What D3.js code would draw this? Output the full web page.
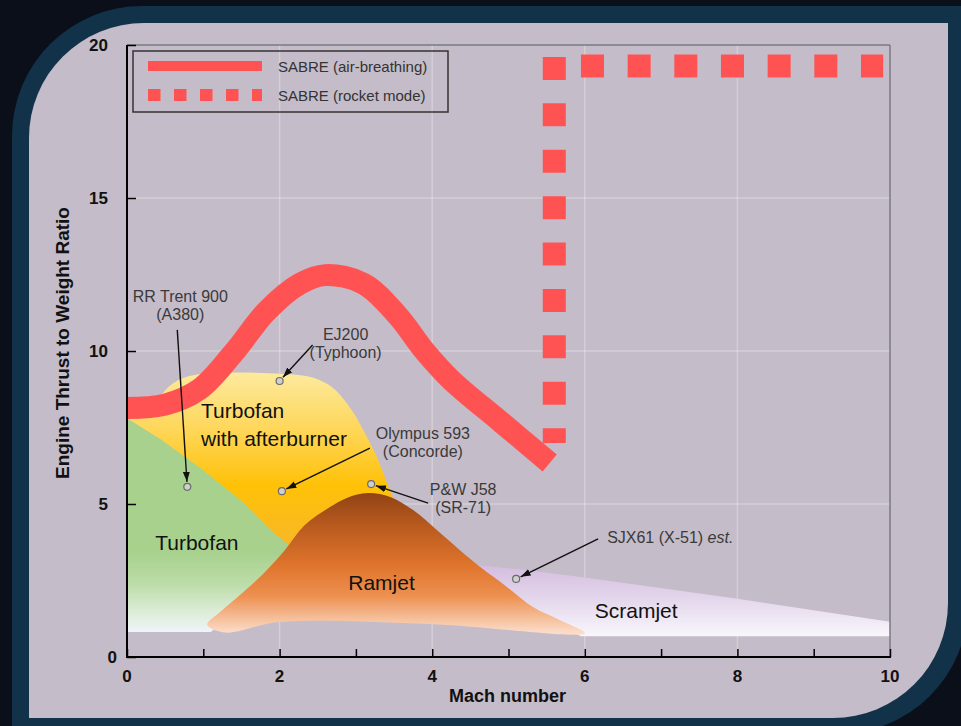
<!DOCTYPE html>
<html>
<head>
<meta charset="utf-8">
<script src="https://cdn.jsdelivr.net/npm/d3@7"></script>
<style>
  body { margin: 0; background: #0b0f19; }
  svg { display: block; }
  text { font-family: "Liberation Sans", Arial, sans-serif; }
</style>
</head>
<body>
<svg id="chart" width="961" height="726"></svg>
<script>
// ---- data ----
const xTicks = [0, 1, 2, 3, 4, 5, 6, 7, 8, 9, 10];
const xTickLabels = [0, 2, 4, 6, 8, 10];
const yTicks = [0, 5, 10, 15, 20];
const xGrid = [2, 4, 6, 8];
const yGrid = [5, 10, 15];

// SABRE air-breathing curve [mach, thrust/weight]
const sabreAir = [[0, 8.14], [0.5, 8.25], [0.95, 8.75], [1.4, 9.95], [1.83, 11.3], [2.27, 12.2],
  [2.6, 12.48], [3.1, 12.2], [3.55, 11.15], [3.9, 10.0], [4.25, 9.05], [4.9, 7.68], [5.54, 6.34]];
// SABRE rocket mode (vertical rise, then flat)
const sabreRocketRise = [[5.6, 19.61], [5.6, 6.99]];
const sabreRocketFlat = [[5.95, 19.31], [9.91, 19.31]];

// engine envelopes
const turbofan = [[0, 7.8], [0.45, 7.1], [1.0, 6.1], [1.5, 5.1], [1.9, 4.1], [2.2, 3.5], [2.4, 3.0],
  [1.6, 2.0], [1.1, 0.82], [0, 0.82]];
const afterburner = [[0, 8.0], [0.3, 8.2], [0.58, 8.9], [0.85, 9.2], [2.3, 9.2], [2.55, 9.02],
  [2.72, 8.75], [2.95, 8.05], [3.1, 7.4], [3.28, 6.5], [3.45, 5.4], [3.6, 4.5], [3.3, 2.5], [1.5, 2.5], [0, 2.5]];
const ramjet = [[1.05, 1.05], [1.28, 0.8], [2.0, 1.14], [3.97, 1.08], [6.0, 0.78], [5.67, 1.21],
  [5.32, 1.63], [4.98, 2.29], [4.63, 2.94], [4.36, 3.5], [4.06, 4.15], [3.75, 4.8], [3.45, 5.23],
  [3.16, 5.36], [2.88, 5.2], [2.66, 4.9], [2.33, 4.31], [2.07, 3.5], [1.77, 2.68], [1.48, 2.03], [1.22, 1.47]];
const scramjet = [[4.6, 3.0], [5.2, 2.85], [6, 2.6], [8, 1.9], [10, 1.15], [10, 0.68], [5.95, 0.68],
  [5.4, 1.4], [4.6, 2.6]];

const regionLabels = [
  { lines: ["Turbofan"], mach: 0.37, ratio: 3.5 },
  { lines: ["Turbofan", "with afterburner"], mach: 0.97, ratio: 7.81 },
  { lines: ["Ramjet"], mach: 2.9, ratio: 2.19 },
  { lines: ["Scramjet"], mach: 6.13, ratio: 1.27 }
];

const engines = [
  { lines: ["RR Trent 900", "(A380)"], mach: 0.79, ratio: 5.56 },
  { lines: ["EJ200", "(Typhoon)"], mach: 2.0, ratio: 9.02 },
  { lines: ["Olympus 593", "(Concorde)"], mach: 2.03, ratio: 5.42 },
  { lines: ["P&W J58", "(SR-71)"], mach: 3.2, ratio: 5.65 },
  { lines: ["SJX61 (X-51) est."], mach: 5.1, ratio: 2.55 }
];

const legendItems = ["SABRE (air-breathing)", "SABRE (rocket mode)"];

// ---- layout (pixel offsets of labels / arrow tails from each point) ----
const engineLayout = [
  { dx: -7, dy: -185, ax: -10, ay: -157, anchor: "middle" },
  { dx: 66, dy: -41, ax: 33, ay: -36, anchor: "middle" },
  { dx: 141, dy: -52, ax: 88, ay: -43, anchor: "middle" },
  { dx: 92, dy: 11, ax: 57, ay: 19, anchor: "middle" },
  { dx: 91, dy: -36, ax: 82, ay: -40, anchor: "start" }
];

const W = 961, H = 726;
const svg = d3.select("#chart");
const x = d3.scaleLinear().domain([0, 10]).range([127, 890]);
const y = d3.scaleLinear().domain([0, 20]).range([657, 45]);

// ---- background panel ----
function panel(x0, y0, x1, y1, rTL, rBR) {
  return `M${x0},${y0 + rTL} A${rTL},${rTL} 0 0 1 ${x0 + rTL},${y0} L${x1},${y0} L${x1},${y1 - rBR}` +
    ` A${rBR},${rBR} 0 0 1 ${x1 - rBR},${y1} L${x0},${y1} Z`;
}
svg.append("rect").attr("width", W).attr("height", H).attr("fill", "#0b0f19");
svg.append("path").attr("d", panel(12, 6, 968, 734, 130, 130)).attr("fill", "#12324a");
svg.append("path").attr("d", panel(29, 23, 948, 718, 115, 115)).attr("fill", "#c4bcc8");

const defs = svg.append("defs");
defs.append("clipPath").attr("id", "plotClip").append("rect")
  .attr("x", x(0)).attr("y", y(20)).attr("width", x(10) - x(0)).attr("height", y(0) - y(20));

function vGradient(id, stops) {
  const g = defs.append("linearGradient").attr("id", id)
    .attr("gradientUnits", "userSpaceOnUse")
    .attr("x1", 0).attr("x2", 0).attr("y1", y(stops[0][0])).attr("y2", y(stops[stops.length - 1][0]));
  const top = stops[0][0], bot = stops[stops.length - 1][0];
  stops.forEach(([v, c]) => g.append("stop").attr("offset", (top - v) / (top - bot)).attr("stop-color", c));
}
vGradient("gTurbofan", [[3.4, "#a8d18e"], [2.4, "#bcdca8"], [1.5, "#dcecd6"], [0.82, "#eef5f8"]]);
vGradient("gAfter", [[9.2, "#fde99a"], [7.5, "#fed75c"], [5.6, "#ffc107"], [3.5, "#f7b72a"]]);
vGradient("gRamjet", [[5.4, "#8f4214"], [4.3, "#b85a1f"], [3.0, "#df742c"], [2.0, "#ed9050"], [0.8, "#fbdcc8"]]);
vGradient("gScram", [[3.0, "#d4bde0"], [2.0, "#e2d4ea"], [0.7, "#f8f6fc"]]);

const marker = defs.append("marker").attr("id", "arrow")
  .attr("viewBox", "0 -4 10 8").attr("refX", 10).attr("refY", 0)
  .attr("markerUnits", "userSpaceOnUse").attr("markerWidth", 10).attr("markerHeight", 8)
  .attr("orient", "auto");
marker.append("path").attr("d", "M0,-3.5L10,0L0,3.5Z").attr("fill", "#111");

// ---- grid ----
const grid = svg.append("g").attr("stroke", "#ffffff").attr("stroke-opacity", 0.28).attr("stroke-width", 1.5);
grid.selectAll(".gx").data(xGrid).join("line")
  .attr("x1", d => x(d)).attr("x2", d => x(d)).attr("y1", y(0)).attr("y2", y(20));
grid.selectAll(".gy").data(yGrid).join("line")
  .attr("x1", x(0)).attr("x2", x(10)).attr("y1", d => y(d)).attr("y2", d => y(d));

// ---- envelopes ----
const plot = svg.append("g").attr("clip-path", "url(#plotClip)");
const lineLinear = d3.line().x(d => x(d[0])).y(d => y(d[1])).curve(d3.curveLinearClosed);
const lineSmooth = d3.line().x(d => x(d[0])).y(d => y(d[1])).curve(d3.curveCatmullRomClosed.alpha(0.5));

plot.append("path").attr("d", lineLinear(scramjet)).attr("fill", "url(#gScram)");
plot.append("path").attr("d", lineSmooth(afterburner)).attr("fill", "url(#gAfter)");
plot.append("path").attr("d", lineLinear(turbofan)).attr("fill", "url(#gTurbofan)");
plot.append("path").attr("d", lineSmooth(ramjet)).attr("fill", "url(#gRamjet)");

// ---- SABRE ----
const sabreColor = "#ff5353";
const openLine = d3.line().x(d => x(d[0])).y(d => y(d[1]));
plot.append("path").attr("d", openLine.curve(d3.curveCatmullRom.alpha(0.5))(sabreAir))
  .attr("fill", "none").attr("stroke", sabreColor).attr("stroke-width", 22).attr("stroke-linecap", "butt");
openLine.curve(d3.curveLinear);
svg.append("path").attr("d", openLine(sabreRocketRise))
  .attr("fill", "none").attr("stroke", sabreColor).attr("stroke-width", 23).attr("stroke-dasharray", "23 23.4");
svg.append("path").attr("d", openLine(sabreRocketFlat))
  .attr("fill", "none").attr("stroke", sabreColor).attr("stroke-width", 23).attr("stroke-dasharray", "23 23.67");

// ---- region labels ----
regionLabels.forEach(r => {
  const t = svg.append("text").attr("x", x(r.mach)).attr("y", y(r.ratio))
    .attr("font-size", 21).attr("fill", "#111");
  r.lines.forEach((s, i) => t.append("tspan").attr("x", x(r.mach)).attr("dy", i ? 28 : 0).text(s));
});

// ---- engine points, arrows, labels ----
engines.forEach((e, i) => {
  const L = engineLayout[i];
  const px = x(e.mach), py = y(e.ratio);
  const sx = px + L.ax, sy = py + L.ay;
  const len = Math.hypot(sx - px, sy - py);
  const ex = px + (sx - px) * 5 / len, ey = py + (sy - py) * 5 / len;
  svg.append("line").attr("x1", sx).attr("y1", sy).attr("x2", ex).attr("y2", ey)
    .attr("stroke", "#111").attr("stroke-width", 1.4).attr("marker-end", "url(#arrow)");
  svg.append("circle").attr("cx", px).attr("cy", py).attr("r", 3.5)
    .attr("fill", "#cfcfcf").attr("stroke", "#6a6a6a").attr("stroke-width", 1.2);
  const t = svg.append("text").attr("x", px + L.dx).attr("y", py + L.dy)
    .attr("font-size", 16).attr("fill", "#3a3a3a").attr("text-anchor", L.anchor);
  e.lines.forEach((s, j) => {
    const span = t.append("tspan").attr("x", px + L.dx).attr("dy", j ? 18 : 0);
    if (s.endsWith(" est.")) {
      span.text(s.slice(0, -4));
      t.append("tspan").attr("font-style", "italic").text("est.");
    } else span.text(s);
  });
});

// ---- frame & axes ----
svg.append("line").attr("x1", x(0)).attr("x2", x(10)).attr("y1", y(20)).attr("y2", y(20))
  .attr("stroke", "#7a7a80").attr("stroke-width", 1.5);
svg.append("line").attr("x1", x(10)).attr("x2", x(10)).attr("y1", y(20)).attr("y2", y(0))
  .attr("stroke", "#7a7a80").attr("stroke-width", 1.5);

const xAxis = svg.append("g").attr("transform", `translate(0,${y(0)})`)
  .call(d3.axisTop(x).tickValues(xTicks).tickSize(8).tickFormat(""));
xAxis.select(".domain").attr("stroke", "#000").attr("stroke-width", 2).attr("d", `M${x(0) - 1},0H${x(10) + 1}`);
xAxis.selectAll(".tick line").attr("stroke", "#000").attr("stroke-width", 1.5);
svg.append("g").selectAll("text").data(xTickLabels).join("text")
  .attr("x", d => x(d)).attr("y", y(0) + 25).attr("text-anchor", "middle")
  .attr("font-size", 17).attr("font-weight", "bold").attr("fill", "#111").text(d => d);

const yAxis = svg.append("g").attr("transform", `translate(${x(0)},0)`)
  .call(d3.axisRight(y).tickValues(yTicks).tickSize(9).tickFormat(""));
yAxis.select(".domain").attr("stroke", "#000").attr("stroke-width", 2).attr("d", `M0,${y(20)}V${y(0) + 1}`);
yAxis.selectAll(".tick line").attr("stroke", "#000").attr("stroke-width", 1.5);
svg.append("g").selectAll("text").data(yTicks).join("text")
  .attr("x", d => d === 0 ? x(0) - 10 : x(0) - 19).attr("y", d => y(d) + 6).attr("text-anchor", "end")
  .attr("font-size", 17).attr("font-weight", "bold").attr("fill", "#111").text(d => d);

svg.append("text").attr("x", (x(0) + x(10)) / 2 - 1).attr("y", 702).attr("text-anchor", "middle")
  .attr("font-size", 18).attr("font-weight", "bold").attr("fill", "#111").text("Mach number");
svg.append("text").attr("transform", `translate(69,${(y(0) + y(20)) / 2 - 8}) rotate(-90)`)
  .attr("text-anchor", "middle").attr("font-size", 19).attr("font-weight", "bold").attr("fill", "#111")
  .text("Engine Thrust to Weight Ratio");

// ---- legend ----
const lg = svg.append("g");
lg.append("rect").attr("x", 133).attr("y", 51).attr("width", 315).attr("height", 61)
  .attr("fill", "none").attr("stroke", "#333").attr("stroke-width", 1.5);
lg.selectAll("g.item").data(legendItems).join("g").attr("class", "item")
  .attr("transform", (d, i) => `translate(148,${66 + i * 29})`)
  .each(function (d, i) {
    const g = d3.select(this);
    g.append("line").attr("x1", 0).attr("x2", 114).attr("y1", 0).attr("y2", 0)
      .attr("stroke", sabreColor).attr("stroke-width", i ? 12 : 10)
      .attr("stroke-dasharray", i ? "12.5 13.5" : null);
    g.append("text").attr("x", 130).attr("y", 5.5).attr("font-size", 15).attr("fill", "#333").text(d);
  });
</script>
</body>
</html>
